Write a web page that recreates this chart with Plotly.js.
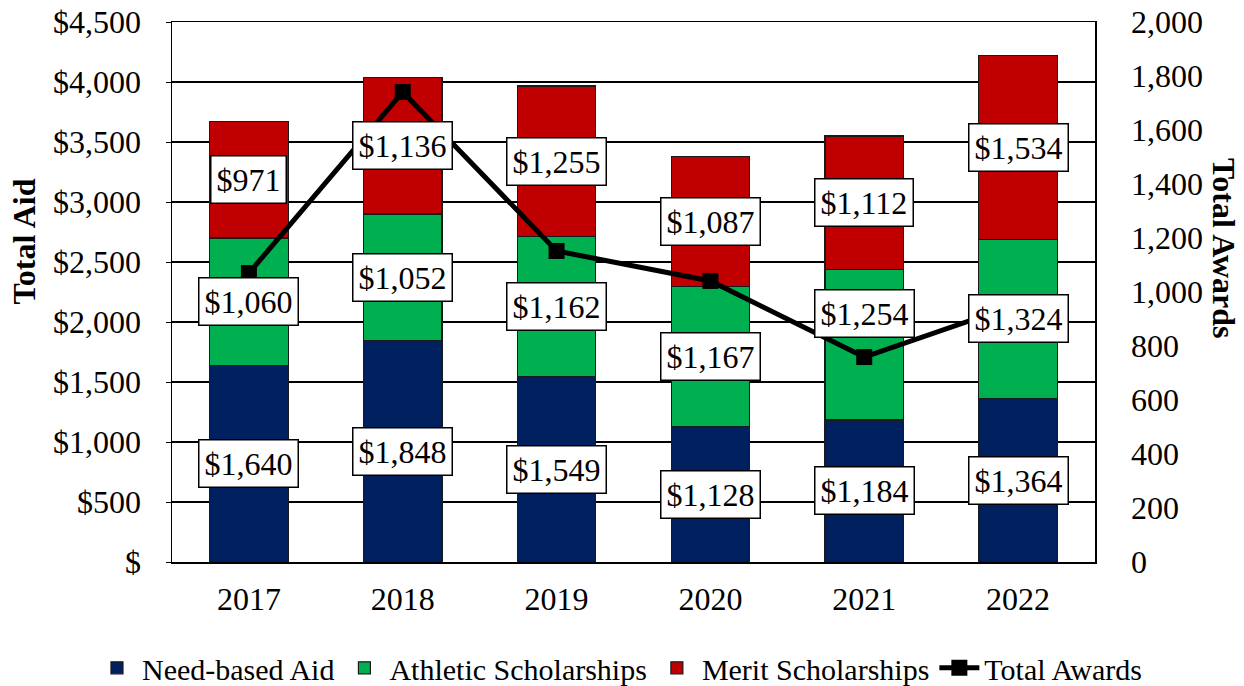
<!DOCTYPE html>
<html><head><meta charset="utf-8">
<script src="https://cdn.plot.ly/plotly-3.0.1.min.js"></script>
<style>body{margin:0;background:#fff}#c{width:1244px;height:686px}</style>
</head><body><div id="c"></div>
<script>
var years = ['2017','2018','2019','2020','2021','2022'];
var needBased = [1640, 1848, 1549, 1128, 1184, 1364];
var athletic = [1060, 1052, 1162, 1167, 1254, 1324];
var merit = [971, 1136, 1255, 1087, 1112, 1534];
var totalAwards = [1070, 1741, 1152, 1041, 759, 955];
var leftTicks = [0,500,1000,1500,2000,2500,3000,3500,4000,4500];
var leftTickText = ['$','$500','$1,000','$1,500','$2,000','$2,500','$3,000','$3,500','$4,000','$4,500'];

var FONT = '"Liberation Serif", "Times New Roman", serif';
function fmt(v){return '$'+v.toLocaleString('en-US');}

var outline = {color:'#1a1a1a', width:1.2};
var traces = [
 {type:'bar', name:'Need-based Aid', x:years, y:needBased, marker:{color:'#002060', line:outline}, hoverinfo:'none'},
 {type:'bar', name:'Athletic Scholarships', x:years, y:athletic, marker:{color:'#00B050', line:outline}, hoverinfo:'none'},
 {type:'bar', name:'Merit Scholarships', x:years, y:merit, marker:{color:'#C00000', line:outline}, hoverinfo:'none'},
 {type:'scatter', mode:'lines+markers', name:'Total Awards', x:years, y:totalAwards, yaxis:'y2',
  line:{color:'#000', width:5}, marker:{symbol:'square', size:16, color:'#000'}, hoverinfo:'none'}
];

var annotations = [];
var series = [needBased, athletic, merit];
for (var i=0;i<years.length;i++){
  var base = 0;
  for (var s=0;s<series.length;s++){
    var v = series[s][i];
    // the 2021 athletic label sits moved up, clear of the line marker
    var shift = (years[i]==='2021' && s===1) ? 31 : 0;
    annotations.push({x:years[i], y:base+v/2, xref:'x', yref:'y', text:fmt(v), showarrow:false, yshift:shift,
      font:{family:FONT, size:32, color:'#000'}, bgcolor:'#fff', bordercolor:'#000', borderwidth:1.5, borderpad:5});
    base += v;
  }
}
annotations.push({xref:'paper', yref:'paper', x:-0.160, y:0.594, xanchor:'center', yanchor:'middle',
  text:'<b>Total Aid</b>', textangle:-90, showarrow:false, font:{family:FONT, size:32, color:'#000'}});
annotations.push({xref:'paper', yref:'paper', x:1.139, y:0.581, xanchor:'center', yanchor:'middle',
  text:'<b>Total Awards</b>', textangle:90, showarrow:false, font:{family:FONT, size:32, color:'#000'}});

var layout = {
  width:1244, height:686,
  margin:{l:172, r:149, t:22, b:124, autoexpand:false},
  paper_bgcolor:'#fff', plot_bgcolor:'#fff',
  barmode:'stack', bargap:0.49,
  font:{family:FONT, size:32, color:'#000'},
  showlegend:true,
  legend:{orientation:'h', xref:'paper', yref:'paper', x:-0.0867, xanchor:'left', y:-0.196, yanchor:'middle',
    font:{family:FONT, size:30}, traceorder:'normal', itemwidth:40},
  xaxis:{showline:true, linecolor:'#000', linewidth:1.5, mirror:true, ticks:'', tickfont:{family:FONT,size:32},
    ticklabelstandoff:8, fixedrange:true},
  yaxis:{range:[0,4500], tickvals:leftTicks, ticktext:leftTickText, showgrid:true, gridcolor:'#000', gridwidth:1.5,
    showline:true, linecolor:'#000', linewidth:1.5, ticks:'outside', ticklen:5, tickcolor:'#000', zeroline:false,
    tickfont:{family:FONT,size:32}, ticklabelstandoff:18},
  yaxis2:{range:[0,2000], dtick:200, tickformat:',d', overlaying:'y', side:'right', showgrid:false, zeroline:false,
    showline:true, linecolor:'#000', linewidth:1.5, ticks:'', tickfont:{family:FONT,size:32}, ticklabelstandoff:28},
  annotations:annotations
};
Plotly.newPlot('c', traces, layout, {displayModeBar:false, staticPlot:true});
</script></body></html>
